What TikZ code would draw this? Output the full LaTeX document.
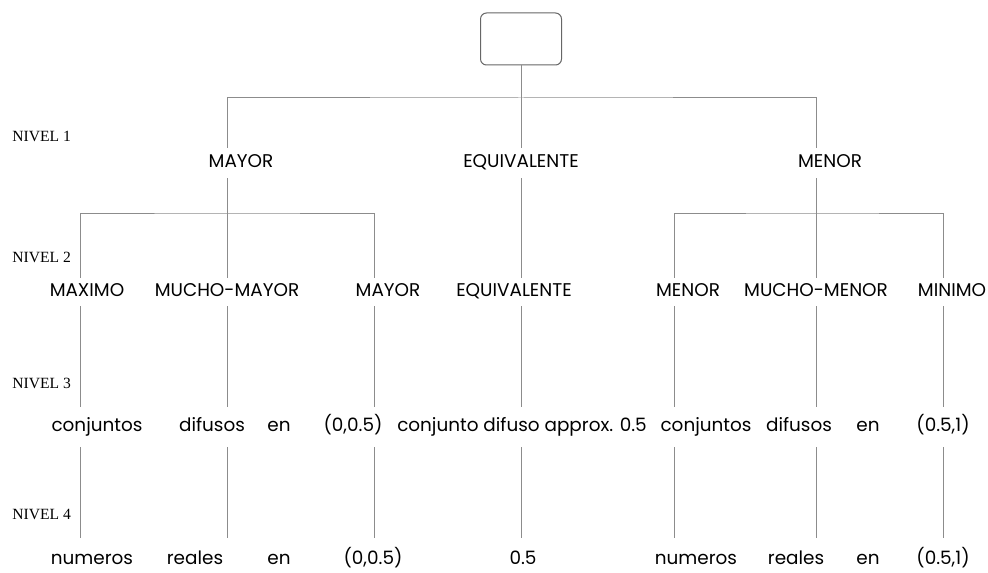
\documentclass[tikz,border=0pt]{standalone}
\usepackage{fontspec}
\setsansfont{Poppins}
\newfontfamily\nivelfont{Liberation Serif}

\begin{document}
\begin{tikzpicture}[
  x=0.5pt, y=-0.5pt,
  font=\sffamily\fontsize{9.2}{11}\selectfont,
  root/.style={draw=black!60, rounded corners=3pt, minimum width=40.5pt, minimum height=26pt, line width=.5pt},
  lbl/.style={inner sep=0pt, text height=6.6pt, text depth=1.8pt, minimum height=15pt},
  row2/.style={lbl, minimum height=14pt},
  row3/.style={lbl, minimum height=20pt},
  row4/.style={lbl, minimum height=22pt},
  nivel/.style={font=\nivelfont\fontsize{7.8}{9}\selectfont, anchor=west, inner sep=0pt},
  tree/.style={draw=black!45, line width=.5pt}
]
\useasboundingbox (0,0) rectangle (988,572);

% columns of the tree
\coordinate (k1) at (80,0);
\coordinate (k2) at (227,0);
\coordinate (k3) at (374,0);
\coordinate (k4) at (521,0);
\coordinate (k5) at (674,0);
\coordinate (k6) at (816,0);
\coordinate (k7) at (943,0);
\coordinate (bar1) at (521,98);
\coordinate (bar2) at (227,213);
\coordinate (bar3) at (816,213);

\node[root] (root) at (521,39) {};

\node[nivel] (niv1) at (12,136) {NIVEL 1};
\node[nivel] (niv2) at (12,257) {NIVEL 2};
\node[nivel] (niv3) at (12,383) {NIVEL 3};
\node[nivel] (niv4) at (12,514) {NIVEL 4};

% nivel 1
\node[lbl] (mayorA) at (241,163) {MAYOR};
\node[lbl] (equivA) at (521,163) {EQUIVALENTE};
\node[lbl] (menorA) at (830,163) {MENOR};

% nivel 2
\node[row2] (maximo) at (87,292) {MAXIMO};
\node[row2] (muchoMayor) at (227,292) {MUCHO-MAYOR};
\node[row2] (mayorB) at (388,292) {MAYOR};
\node[row2] (equivB) at (514,292) {EQUIVALENTE};
\node[row2] (menorB) at (688,292) {MENOR};
\node[row2] (muchoMenor) at (816,292) {MUCHO-MENOR};
\node[row2] (minimo) at (952,292) {MINIMO};

% nivel 3
\node[row3] (conjA) at (97,427) {conjuntos};
\node[row3] (difA) at (212,427) {difusos};
\node[row3] (enA) at (279,427) {en};
\node[row3] (parA) at (353,427) {(0,0.5)};
\node[row3] (approx) at (522,427) {conjunto difuso approx. 0.5};
\node[row3] (conjB) at (706,427) {conjuntos};
\node[row3] (difB) at (799,427) {difusos};
\node[row3] (enC) at (868,427) {en};
\node[row3] (parC) at (943,427) {(0.5,1)};

% nivel 4
\node[row4] (numA) at (92,560) {numeros};
\node[row4] (realA) at (195,560) {reales};
\node[row4] (enB) at (279,560) {en};
\node[row4] (parB) at (373,560) {(0,0.5)};
\node[row4] (half) at (523,560) {0.5};
\node[row4] (numB) at (696,560) {numeros};
\node[row4] (realB) at (796,560) {reales};
\node[row4] (enD) at (868,560) {en};
\node[row4] (parD) at (943,560) {(0.5,1)};

\draw[tree] (root) -- (k4 |- equivA.north);
\draw[tree] (k2 |- mayorA.north) |- (bar1) -| (k6 |- menorA.north);
\draw[tree] (k1 |- maximo.north) |- (bar2) -| (k3 |- mayorB.north);
\draw[tree] (k5 |- menorB.north) |- (bar3) -| (k7 |- minimo.north);
\draw[tree] (k2 |- mayorA.south) -- (k2 |- muchoMayor.north);
\draw[tree] (k4 |- equivA.south) -- (k4 |- equivB.north);
\draw[tree] (k6 |- menorA.south) -- (k6 |- muchoMenor.north);

\foreach \k/\a/\b/\c in {k1/maximo/conjA/numA, k2/muchoMayor/difA/realA,
    k3/mayorB/parA/parB, k4/equivB/approx/half, k5/menorB/conjB/numB,
    k6/muchoMenor/difB/realB, k7/minimo/parC/parD} {
  \draw[tree] (\k |- \a.south) -- (\k |- \b.north);
  \draw[tree] (\k |- \b.south) -- (\k |- \c.north);
}
\end{tikzpicture}
\end{document}
